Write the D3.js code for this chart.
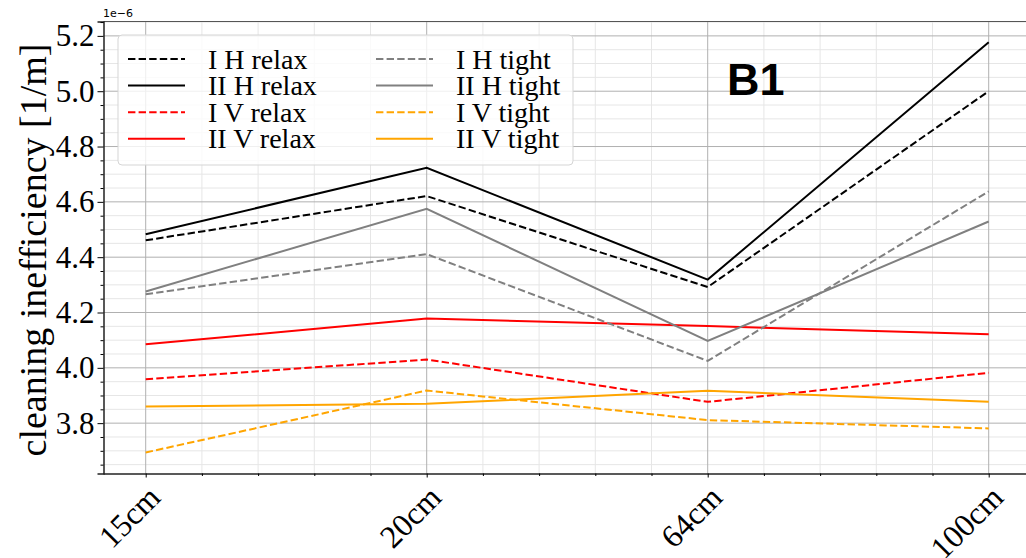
<!DOCTYPE html>
<html>
<head>
<meta charset="utf-8">
<script src="https://cdn.jsdelivr.net/npm/d3@7"></script>
<style>
  body { margin: 0; background: #fff; }
  svg { display: block; }
</style>
</head>
<body>
<div class="chart"></div>
<script>
// values (units of 1e-6 1/m)
const cats = ["15cm", "20cm", "64cm", "100cm"];
const iHRelax  = [4.461, 4.621, 4.292, 5.000];
const iiHRelax = [4.483, 4.723, 4.319, 5.177];
const iVRelax  = [3.959, 4.030, 3.877, 3.982];
const iiVRelax = [4.085, 4.178, 4.151, 4.121];
const iHTight  = [4.266, 4.411, 4.025, 4.638];
const iiHTight = [4.276, 4.575, 4.097, 4.529];
const iVTight  = [3.694, 3.918, 3.811, 3.781];
const iiVTight = [3.860, 3.870, 3.917, 3.877];
const yTicks = [3.8, 4.0, 4.2, 4.4, 4.6, 4.8, 5.0, 5.2];

const series = [
  {name: "I H relax",  vals: iHRelax,  color: "#000000", dash: true},
  {name: "II H relax", vals: iiHRelax, color: "#000000", dash: false},
  {name: "I V relax",  vals: iVRelax,  color: "#ff0000", dash: true},
  {name: "II V relax", vals: iiVRelax, color: "#ff0000", dash: false},
  {name: "I H tight",  vals: iHTight,  color: "#808080", dash: true},
  {name: "II H tight", vals: iiHTight, color: "#808080", dash: false},
  {name: "I V tight",  vals: iVTight,  color: "#ffa500", dash: true},
  {name: "II V tight", vals: iiVTight, color: "#ffa500", dash: false}
];

let width = 1026, height = 558;
let pLeft = 103.5, pRight = 1031, pTop = 21.5, pBottom = 473.5;

let svg = d3.select("div.chart").append("svg")
  .attr("width", width)
  .attr("height", height);

// category index -> pixel
let x = d3.scaleLinear().domain([0, 3]).range([145.7, 988.7]);
let y = d3.scaleLinear().domain([3.618, 5.252]).range([pBottom, pTop]);

let minorX = d3.range(-0.2, 3.3, 0.2).map(v => +v.toFixed(1)).filter(v => x(v) > pLeft && x(v) < pRight && !Number.isInteger(v));
let minorY = d3.range(3.65, 5.26, 0.05).map(v => +v.toFixed(2)).filter(v => y(v) < pBottom && y(v) > pTop && !yTicks.some(t => Math.abs(t - v) < 1e-6));

let grid = svg.append("g");
grid.selectAll("line.mx").data(minorX).enter().append("line")
  .attr("x1", d => x(d)).attr("x2", d => x(d)).attr("y1", pTop).attr("y2", pBottom)
  .attr("stroke", "#e6e6e6").attr("stroke-width", 1);
grid.selectAll("line.my").data(minorY).enter().append("line")
  .attr("x1", pLeft).attr("x2", pRight).attr("y1", d => y(d)).attr("y2", d => y(d))
  .attr("stroke", "#e6e6e6").attr("stroke-width", 1);
grid.selectAll("line.gx").data([0, 1, 2, 3]).enter().append("line")
  .attr("x1", d => x(d)).attr("x2", d => x(d)).attr("y1", pTop).attr("y2", pBottom)
  .attr("stroke", "#b0b0b0").attr("stroke-width", 1);
grid.selectAll("line.gy").data(yTicks).enter().append("line")
  .attr("x1", pLeft).attr("x2", pRight).attr("y1", d => y(d)).attr("y2", d => y(d))
  .attr("stroke", "#b0b0b0").attr("stroke-width", 1);

// lines
let line = d3.line().x((d, i) => x(i)).y(d => y(d));
svg.append("g").selectAll("path")
  .data(series).enter()
  .append("path")
  .attr("d", d => line(d.vals))
  .attr("fill", "none")
  .attr("stroke", d => d.color)
  .attr("stroke-width", 2)
  .attr("stroke-dasharray", d => d.dash ? "7.4,3.2" : null);

// frame
svg.append("line").attr("x1", pLeft).attr("x2", pRight).attr("y1", pTop).attr("y2", pTop)
  .attr("stroke", "#555").attr("stroke-width", 1.2);

// y axis
let yAxis = svg.append("g").attr("transform", `translate(${pLeft},0)`)
  .call(d3.axisLeft(y).tickValues(yTicks).tickFormat(d3.format(".1f")).tickSize(6).tickPadding(3));
svg.append("g").attr("transform", `translate(${pLeft},0)`)
  .call(d3.axisLeft(y).tickValues(minorY).tickFormat("").tickSize(3))
  .call(g => g.select(".domain").remove());
yAxis.select(".domain").attr("stroke", "#222").attr("stroke-width", 1.5);
yAxis.selectAll("text")
  .attr("font-family", "Liberation Serif, Times New Roman, serif")
  .attr("font-size", 31).attr("fill", "#000");

// x axis
let xAxis = svg.append("g").attr("transform", `translate(0,${pBottom})`)
  .call(d3.axisBottom(x).tickValues([0, 1, 2, 3]).tickFormat(i => cats[i]).tickSize(4).tickSizeOuter(0));
svg.append("g").attr("transform", `translate(0,${pBottom})`)
  .call(d3.axisBottom(x).tickValues(minorX).tickFormat("").tickSize(2.5))
  .call(g => g.select(".domain").remove());
xAxis.select(".domain").attr("stroke", "#222").attr("stroke-width", 1.5)
  .attr("d", `M${pLeft},0.5H${pRight}`);
xAxis.selectAll("text")
  .attr("font-family", "Liberation Serif, Times New Roman, serif")
  .attr("font-size", 32).attr("fill", "#000")
  .attr("text-anchor", "end")
  .attr("dy", null).attr("y", null)
  .attr("transform", "translate(16,26) rotate(-45)");

// y label
svg.append("text")
  .attr("transform", "translate(46,250) rotate(-90)")
  .attr("text-anchor", "middle")
  .attr("font-family", "Liberation Serif, Times New Roman, serif")
  .attr("font-size", 38)
  .text("cleaning inefficiency [1/m]");

// offset text
svg.append("text")
  .attr("x", 103).attr("y", 17)
  .attr("font-family", "DejaVu Sans, sans-serif")
  .attr("font-size", 11)
  .text("1e\u22126");

// panel tag
svg.append("text")
  .attr("x", 727).attr("y", 95)
  .attr("font-family", "Liberation Sans, Arial, sans-serif")
  .attr("font-weight", "bold")
  .attr("font-size", 45)
  .text("B1");

// legend
let lg = svg.append("g");
lg.append("rect")
  .attr("x", 118).attr("y", 35).attr("width", 455).attr("height", 130)
  .attr("rx", 4)
  .attr("fill", "#fff").attr("fill-opacity", 0.8)
  .attr("stroke", "#d5d5d5");
let items = lg.selectAll("g.item").data(series).enter().append("g")
  .attr("transform", (d, i) => `translate(${i < 4 ? 128 : 376},${59 + (i % 4) * 26.6})`);
items.append("line")
  .attr("x1", 0).attr("x2", 57).attr("y1", 0).attr("y2", 0)
  .attr("stroke", d => d.color).attr("stroke-width", 2)
  .attr("stroke-dasharray", d => d.dash ? "7.4,3.2" : null);
items.append("text")
  .attr("x", 80).attr("y", 9.5)
  .attr("font-family", "Liberation Serif, Times New Roman, serif")
  .attr("font-size", 28)
  .text(d => d.name);
</script>
</body>
</html>
